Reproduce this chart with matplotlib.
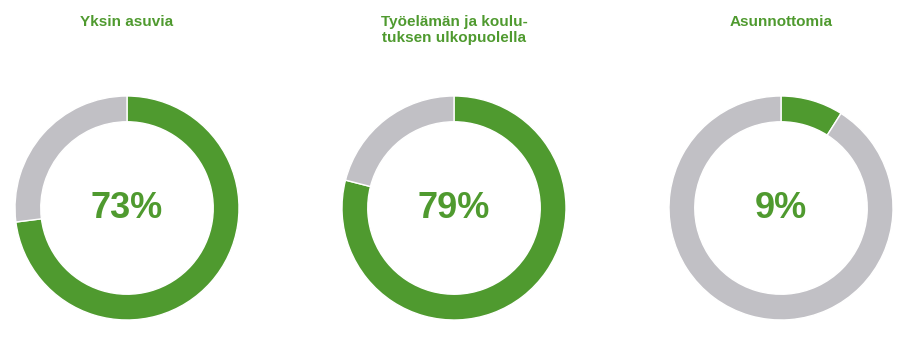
import matplotlib
matplotlib.use("Agg")
import matplotlib.pyplot as plt

titles = ["Yksin asuvia", "Työelämän ja koulu-\ntuksen ulkopuolella", "Asunnottomia"]
shares = [73, 79, 9]

green = "#4f9a2f"
grey = "#c1c0c5"

W, H = 920, 346
fig = plt.figure(figsize=(W / 100, H / 100), dpi=100)

centers_x = [127, 454, 781]
cy = 208
r_px = 112
half = 120

for cx, title, val in zip(centers_x, titles, shares):
    ax = fig.add_axes([(cx - half) / W, (H - cy - half) / H, 2 * half / W, 2 * half / H])
    ax.pie([val, 100 - val], colors=[green, grey], startangle=90, counterclock=False,
           radius=1, wedgeprops=dict(width=0.23, edgecolor="white", linewidth=1))
    lim = half / r_px
    ax.set_xlim(-lim, lim)
    ax.set_ylim(-lim, lim)
    ax.set_aspect("equal")
    ax.axis("off")
    ax.text(0, 0, f"{val}%", ha="center", va="center", fontsize=26, fontweight="bold",
            color=green, family="Liberation Sans")
    fig.text(cx / W, 1 - 15 / H, title, ha="center", va="top", fontsize=11,
             fontweight="bold", color=green, family="Liberation Sans", linespacing=1.2)

fig.savefig("out.png", dpi=100)
